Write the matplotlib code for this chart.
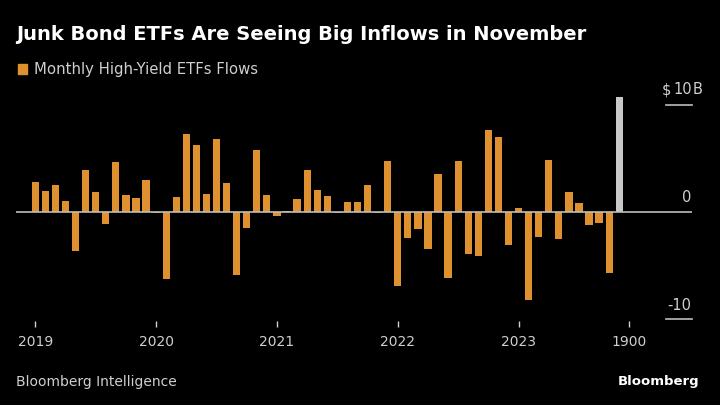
import matplotlib
matplotlib.use("Agg")
import matplotlib.pyplot as plt
import numpy as np

# ---- data ----
months = [f"{y}-{m:02d}" for y in range(2019, 2024) for m in range(1, 13)][:59]
flows = [
    2.8, 2.0, 2.5, 1.05, -3.6, 3.9, 1.9, -1.15, 4.7, 1.6, 1.35, 3.0,       # 2019
    -0.05, -6.25, 1.45, 7.3, 6.25, 1.65, 6.8, 2.75, -5.9, -1.5, 5.8, 1.6,  # 2020
    -0.4, 0.1, 1.2, 3.95, 2.1, 1.55, -0.05, 0.97, 0.97, 2.5, -0.05, 4.75,  # 2021
    -6.9, -2.4, -1.6, -3.4, 3.55, -6.15, 4.75, -3.9, -4.05, 7.7, 7.0, -3.1, # 2022
    0.37, -8.2, -2.35, 4.9, -2.55, 1.9, 0.87, -1.2, -1.05, -5.65, 10.75,   # 2023
]
highlight_month = "2023-11"
tick_positions_idx = [0, 12, 24, 36, 48, 59]
tick_labels = ["2019", "2020", "2021", "2022", "2023", "1900"]
y_ticks = [10, 0, -10]
y_labels = ["10", "0", "-10"]

title = "Junk Bond ETFs Are Seeing Big Inflows in November"
legend_label = "Monthly High-Yield ETFs Flows"
source = "Bloomberg Intelligence"
brand = "Bloomberg"

ORANGE = "#E0912F"
GRAY_BAR = "#C8C8C8"
TEXT = "#CFCFCF"
BG = "#000000"

plt.rcParams["font.family"] = ["DejaVu Sans"]

W, H = 720, 405
fig = plt.figure(figsize=(W / 100, H / 100), dpi=100, facecolor=BG)

# axes geometry in pixels
x_left_px, x_right_px = 15.7, 691.7
y_top_px, y_bot_px = 97.0, 319.3
ax = fig.add_axes([x_left_px / W, 1 - y_bot_px / H,
                   (x_right_px - x_left_px) / W, (y_bot_px - y_top_px) / H])
ax.set_facecolor(BG)

x = np.arange(len(flows))
colors = [GRAY_BAR if m == highlight_month else ORANGE for m in months]
ax.bar(x, flows, width=0.72, color=colors, zorder=2, clip_on=False)

ax.set_xlim(-1.95, 65.2)
ax.set_ylim(-10, 10.75)

# zero line
ax.axhline(0, color="#BDBDBD", lw=1.2, zorder=3)
# short gridlines at +/-10 on the right
xr0 = -1.95 + (666 - x_left_px) / (x_right_px - x_left_px) * (65.2 + 1.95)
for yv in (10, -10):
    ax.plot([xr0, 65.2], [yv, yv], color="#BDBDBD", lw=1.2, clip_on=False, zorder=3)

fs_r = 10.5
for yv, lab in zip(y_ticks, y_labels):
    off = 5.5 if yv != -10 else 4.5
    ax.annotate(lab, xy=(65.2, yv), xytext=(0, off), textcoords="offset points",
                ha="right", va="bottom", color=TEXT, fontsize=fs_r)
    if yv == 10:
        ax.annotate("B", xy=(65.2, yv), xytext=(0.5, off), textcoords="offset points",
                    ha="left", va="bottom", color=TEXT, fontsize=fs_r)
        ax.annotate("$", xy=(65.2, yv), xytext=(-14.5, off), textcoords="offset points",
                    ha="right", va="bottom", color=TEXT, fontsize=fs_r)

for s in ax.spines.values():
    s.set_visible(False)
ax.set_yticks([])
ax.set_xticks(tick_positions_idx)
ax.set_xticklabels(tick_labels)
ax.tick_params(axis="x", colors=TEXT, labelcolor=TEXT, length=4.5, width=1,
               direction="out", pad=6, labelsize=10)
ax.spines["bottom"].set_position(("outward", 1))

# title, legend, footer
fig.text(16 / W, 1 - 35 / H, title, color="white", fontsize=14, fontweight="bold",
         ha="left", va="center")
fig.patches.append(plt.Rectangle((18 / W, 1 - 73.5 / H), 9 / W, 9.5 / H,
                                 transform=fig.transFigure, color=ORANGE))
fig.text(34 / W, 1 - 69.5 / H, legend_label, color=TEXT, fontsize=10.7, ha="left", va="center")
fig.text(16 / W, 1 - 382 / H, source, color=TEXT, fontsize=10, ha="left", va="center")
fig.text(699 / W, 1 - 381 / H, brand, color="white", fontsize=9.5, fontweight="bold",
         ha="right", va="center")

fig.savefig("out.png", dpi=100, facecolor=BG)
